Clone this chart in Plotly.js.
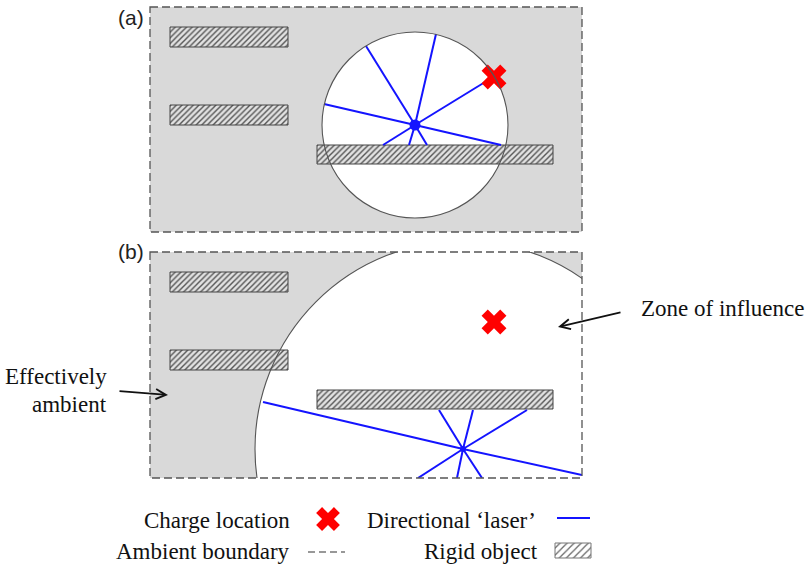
<!DOCTYPE html>
<html>
<head>
<meta charset="utf-8">
<script src="https://cdn.plot.ly/plotly-3.0.1.min.js"></script>
<style>html,body{margin:0;padding:0;background:#fff;}#chart{width:810px;height:564px;}</style>
</head>
<body>
<div id="chart"></div>
<script>
// ---- Data (panel-local units, y downward) ----
const rectX0 = [20, 20, 167];
const rectX1 = [138, 138, 403];
const rectY0 = [20, 98, 138];
const rectY1 = [40, 118, 157];

const chargeX = 344;
const chargeY = 70;

const originA = [265, 118];
const radiusA = 93;
const rayAEndX = [286, 216, 174, 340, 351, 233, 259, 277];
const rayAEndY = [27, 39, 97, 72, 138, 138, 138, 138];

const originB = [313, 197];
const radiusB = 208;
const rayBEndX = [113, 432, 289, 323, 377, 268, 307, 332];
const rayBEndY = [150, 223, 158, 158, 158, 226, 226, 226];

const panelLabels = ['(a)', '(b)'];
const legendLabels = ['Charge location', 'Directional \u2018laser\u2019', 'Ambient boundary', 'Rigid object'];
const annotTexts = ['Zone of influence', 'Effectively', 'ambient'];

// ---- Styles ----
const BLUE = '#1414ff';
const RED = '#ff0000';
const GREY_BG = '#d9d9d9';
const EDGE = '#555555';
const serif = {family: 'Liberation Serif, Times New Roman, serif', size: 23, color: '#111'};
const sans = {family: 'Liberation Sans, Arial, sans-serif', size: 21, color: '#222'};
const hatch = {shape: '/', fgcolor: '#555555', bgcolor: '#e2e2e2', size: 4, solidity: 0.35, fillmode: 'replace'};

function rectPath() {
  const xs = [], ys = [];
  for (let i = 0; i < rectX0.length; i++) {
    xs.push(rectX0[i], rectX1[i], rectX1[i], rectX0[i], rectX0[i], null);
    ys.push(rectY0[i], rectY0[i], rectY1[i], rectY1[i], rectY0[i], null);
  }
  return {xs, ys};
}
function rayPath(o, ex, ey) {
  const xs = [], ys = [];
  for (let i = 0; i < ex.length; i++) {
    xs.push(o[0], ex[i], null);
    ys.push(o[1], ey[i], null);
  }
  return {xs, ys};
}

const rp = rectPath();
const raA = rayPath(originA, rayAEndX, rayAEndY);
const raB = rayPath(originB, rayBEndX, rayBEndY);

const traces = [];
[['x', 'y', raA, originA, 11], ['x2', 'y2', raB, originB, 6]].forEach(function (p) {
  traces.push({type: 'scatter', mode: 'lines', x: rp.xs, y: rp.ys, xaxis: p[0], yaxis: p[1],
    fill: 'toself', fillpattern: hatch, fillcolor: '#e2e2e2', line: {color: '#444', width: 1},
    hoverinfo: 'skip', showlegend: false});
  traces.push({type: 'scatter', mode: 'lines', x: p[2].xs, y: p[2].ys, xaxis: p[0], yaxis: p[1],
    line: {color: BLUE, width: 2}, hoverinfo: 'skip', showlegend: false});
  traces.push({type: 'scatter', mode: 'markers', x: [p[3][0]], y: [p[3][1]], xaxis: p[0], yaxis: p[1],
    marker: {color: BLUE, size: p[4]}, hoverinfo: 'skip', showlegend: false});
  traces.push({type: 'scatter', mode: 'markers', x: [chargeX], y: [chargeY], xaxis: p[0], yaxis: p[1],
    marker: {color: RED, size: 22, symbol: 'x', line: {width: 0}}, hoverinfo: 'skip', showlegend: false});
});

// legend symbols in page-pixel axis (x3/y3)
traces.push({type: 'scatter', mode: 'markers', x: [328], y: [519], xaxis: 'x3', yaxis: 'y3',
  marker: {color: RED, size: 21, symbol: 'x', line: {width: 0}}, hoverinfo: 'skip', showlegend: false});
traces.push({type: 'scatter', mode: 'lines', x: [557, 590], y: [518, 518], xaxis: 'x3', yaxis: 'y3',
  line: {color: BLUE, width: 2}, hoverinfo: 'skip', showlegend: false});
traces.push({type: 'scatter', mode: 'lines', x: [308, 345], y: [552, 552], xaxis: 'x3', yaxis: 'y3',
  line: {color: '#777', width: 1.5, dash: '7px,4px'}, hoverinfo: 'skip', showlegend: false});
traces.push({type: 'scatter', mode: 'lines', x: [555, 591, 591, 555, 555], y: [543, 543, 558, 558, 543],
  xaxis: 'x3', yaxis: 'y3', fill: 'toself',
  fillpattern: {shape: '/', fgcolor: '#666', bgcolor: '#ffffff', size: 5, solidity: 0.25, fillmode: 'replace'},
  line: {color: '#777', width: 1}, hoverinfo: 'skip', showlegend: false});

const shapes = [];
[['x', 'y', 225, originA, radiusA], ['x2', 'y2', 226, originB, radiusB]].forEach(function (p) {
  shapes.push({type: 'rect', xref: p[0], yref: p[1], x0: 0, x1: 432, y0: 0, y1: p[2],
    fillcolor: GREY_BG, line: {width: 0}, layer: 'below'});
  shapes.push({type: 'circle', xref: p[0], yref: p[1],
    x0: p[3][0] - p[4], x1: p[3][0] + p[4], y0: p[3][1] - p[4], y1: p[3][1] + p[4],
    fillcolor: '#ffffff', line: {width: 0}, layer: 'below'});
  shapes.push({type: 'circle', xref: p[0], yref: p[1],
    x0: p[3][0] - p[4], x1: p[3][0] + p[4], y0: p[3][1] - p[4], y1: p[3][1] + p[4],
    fillcolor: 'rgba(0,0,0,0)', line: {color: '#555', width: 1.1}, layer: 'above'});
});
// dashed ambient boundaries (page pixels)
shapes.push({type: 'rect', xref: 'x3', yref: 'y3', x0: 150, x1: 582, y0: 7, y1: 232,
  line: {color: EDGE, width: 1.3, dash: '8px,4px'}, fillcolor: 'rgba(0,0,0,0)', layer: 'above'});
shapes.push({type: 'rect', xref: 'x3', yref: 'y3', x0: 150, x1: 582, y0: 252, y1: 478,
  line: {color: EDGE, width: 1.3, dash: '8px,4px'}, fillcolor: 'rgba(0,0,0,0)', layer: 'above'});

const annotations = [
  {xref: 'x3', yref: 'y3', x: 116, y: 17, text: panelLabels[0], showarrow: false, xanchor: 'left', yanchor: 'middle', font: sans},
  {xref: 'x3', yref: 'y3', x: 116, y: 251, text: panelLabels[1], showarrow: false, xanchor: 'left', yanchor: 'middle', font: sans},
  {xref: 'x3', yref: 'y3', x: 292, y: 520, text: legendLabels[0], showarrow: false, xanchor: 'right', yanchor: 'middle', font: serif},
  {xref: 'x3', yref: 'y3', x: 538, y: 520, text: legendLabels[1], showarrow: false, xanchor: 'right', yanchor: 'middle', font: serif},
  {xref: 'x3', yref: 'y3', x: 292, y: 551, text: legendLabels[2], showarrow: false, xanchor: 'right', yanchor: 'middle', font: serif},
  {xref: 'x3', yref: 'y3', x: 540, y: 551, text: legendLabels[3], showarrow: false, xanchor: 'right', yanchor: 'middle', font: serif},
  {xref: 'x3', yref: 'y3', x: 639, y: 308, text: annotTexts[0], showarrow: false, xanchor: 'left', yanchor: 'middle', font: serif},
  {xref: 'x3', yref: 'y3', x: 109, y: 376, text: annotTexts[1], showarrow: false, xanchor: 'right', yanchor: 'middle', font: serif},
  {xref: 'x3', yref: 'y3', x: 109, y: 404, text: annotTexts[2], showarrow: false, xanchor: 'right', yanchor: 'middle', font: serif},
  {xref: 'x3', yref: 'y3', x: 168, y: 395, ax: 118, ay: 391, axref: 'x3', ayref: 'y3', text: '', showarrow: true,
    arrowhead: 5, arrowsize: 1.1, arrowwidth: 1.8, arrowcolor: '#111'},
  {xref: 'x3', yref: 'y3', x: 558, y: 327, ax: 622, ay: 312, axref: 'x3', ayref: 'y3', text: '', showarrow: true,
    arrowhead: 5, arrowsize: 1.1, arrowwidth: 1.8, arrowcolor: '#111'}
];

const hidden = {visible: false, showgrid: false, zeroline: false, autorange: false, fixedrange: true};
const layout = {
  width: 810, height: 564,
  margin: {l: 0, r: 0, t: 0, b: 0, pad: 0},
  paper_bgcolor: '#ffffff', plot_bgcolor: 'rgba(0,0,0,0)',
  showlegend: false,
  xaxis: Object.assign({}, hidden, {domain: [150 / 810, 582 / 810], range: [0, 432], anchor: 'y'}),
  yaxis: Object.assign({}, hidden, {domain: [1 - 232 / 564, 1 - 7 / 564], range: [225, 0], anchor: 'x'}),
  xaxis2: Object.assign({}, hidden, {domain: [150 / 810, 582 / 810], range: [0, 432], anchor: 'y2'}),
  yaxis2: Object.assign({}, hidden, {domain: [1 - 478 / 564, 1 - 252 / 564], range: [226, 0], anchor: 'x2'}),
  xaxis3: Object.assign({}, hidden, {domain: [0, 1], range: [0, 810], anchor: 'y3'}),
  yaxis3: Object.assign({}, hidden, {domain: [0, 1], range: [564, 0], anchor: 'x3'}),
  shapes: shapes,
  annotations: annotations
};

Plotly.newPlot('chart', traces, layout, {staticPlot: true, displayModeBar: false});
</script>
</body>
</html>
